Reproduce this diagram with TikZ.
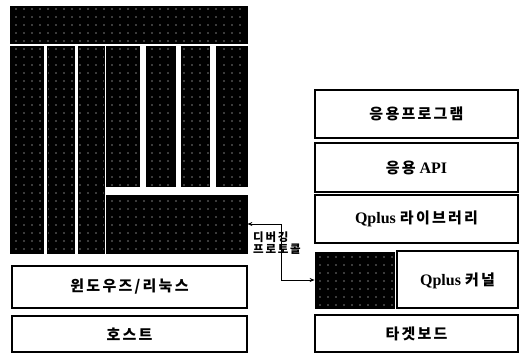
\documentclass[tikz,border=0pt]{standalone}
\usepackage{fontspec}
\setmainfont{Liberation Serif}
\newfontfamily\kr{Noto Sans CJK KR}[LetterSpace=15]
\usetikzlibrary{patterns.meta,arrows.meta}

\tikzset{
  layer/.style={draw, line width=1.1pt, rectangle, inner sep=0pt,
    font=\fontsize{16}{18}\selectfont\bfseries},
  blk/.style={draw=black, line width=0.8pt, rectangle, inner sep=0pt,
    preaction={fill=black},
    pattern={Dots[distance=8pt, radius=0.55pt]}, pattern color=white},
  lbl/.style={inner sep=0pt, align=left,
    font=\kr\fontsize{11.5}{12}\selectfont\bfseries}
}

\begin{document}
\begin{tikzpicture}[x=1pt, y=-1pt]
  \useasboundingbox (0,0) rectangle (519,353);

  % host side
  \node[blk, minimum width=237, minimum height=37] (top) at (128.5,24.5) {};
  \node[blk, minimum width=33, minimum height=207] (col1) at (26.5,149.5) {};
  \node[blk, minimum width=27, minimum height=207] (col2) at (60.5,149.5) {};
  \node[blk, minimum width=26, minimum height=207] (col3) at (91,149.5) {};
  \foreach \n/\x/\w in {4/122.5/33, 5/160.5/29, 6/195/28, 7/231.5/31}
    \node[blk, minimum width=\w, minimum height=140] (col\n) at (\x,116) {};
  \node[blk, minimum width=141, minimum height=58] (dbg) at (176.5,224) {};

  \node[layer, minimum width=235, minimum height=42] (os) at (129.5,287) {\kr\fontsize{15}{17}\selectfont 윈도우즈/리눅스};
  \node[layer, minimum width=235, minimum height=36] (host) at (129.5,334) {\kr\fontsize{15}{17}\selectfont 호스트};

  % target side
  \node[layer, minimum width=203, minimum height=48] (app) at (416.5,114) {\kr\fontsize{15}{17}\selectfont 응용프로그램};
  \node[layer, minimum width=203, minimum height=49] (api) at (416.5,167.5) {{\kr\fontsize{15}{17}\selectfont 응용} API};
  \node[layer, minimum width=203, minimum height=48] (lib) at (416.5,219) {Qplus {\kr\fontsize{15}{17}\selectfont 라이브러리}};
  \node[blk, minimum width=79, minimum height=56] (kdbg) at (354.5,280) {};
  \node[layer, minimum width=121, minimum height=57, text depth=-12pt] (kernel) at (457.5,279.5) {Qplus {\kr\fontsize{15}{17}\selectfont 커널}};
  \node[layer, minimum width=203, minimum height=37] (board) at (416.5,333.5) {\kr\fontsize{15}{17}\selectfont 타겟보드};

  % debugging link
  \draw[line width=0.9pt, {Stealth[length=5pt,width=4pt]}-{Stealth[length=5pt,width=4pt]}]
    (dbg.east) -- ++(34,0) |- (kdbg.west);
  \node[lbl, anchor=west] (dbglbl) at (253,243.5) {디버깅\\프로토콜};

\end{tikzpicture}
\end{document}
